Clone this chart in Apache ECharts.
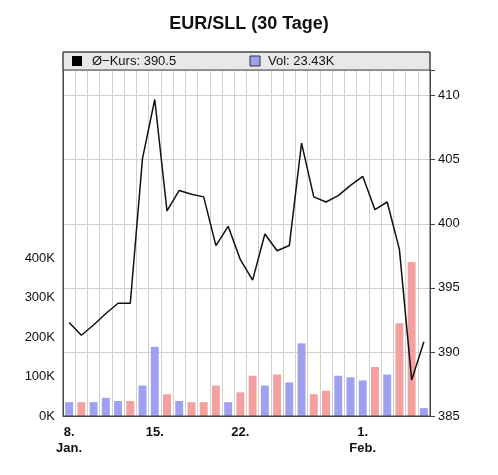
<!DOCTYPE html><html><head><meta charset="utf-8"><script src="https://cdn.jsdelivr.net/npm/echarts@6/dist/echarts.min.js"></script>
<style>body{margin:0;background:#fff}#c{width:498px;height:475px}</style></head><body><div id="c"></div><script>
const days=[8,9,10,11,12,13,14,15,16,17,18,19,20,21,22,23,24,25,26,27,28,29,30,31,1,2,3,4,5,6];
const kurs=[392.3,391.3,392.1,393.0,393.8,393.8,405.1,409.7,401.0,402.6,402.3,402.1,398.3,399.8,397.2,395.6,399.2,397.9,398.3,406.3,402.1,401.7,402.2,403.0,403.7,401.1,401.7,398.0,387.8,390.8];
const vol=[35,35,35,46,38,38,77,175,55,38,35,35,77,35,60,102,77,105,85,184,55,64,102,98,90,124,105,235,390,20];
const labelDays={0:['8.','Jan.'],7:['15.',''],14:['22.',''],24:['1.','Feb.']};
const cats=days.map((d,i)=>String(i));
const volData=vol.map((v,i)=>({value:v*1000,itemStyle:{color:(i>0&&kurs[i]<=kurs[i-1])?'#f4a0a0':'#a0a0f0'}}));
const F='Liberation Sans';
const c=echarts.init(document.getElementById('c'));
c.setOption({animation:false,
title:{text:'EUR/SLL (30 Tage)',left:'center',top:10,textStyle:{fontFamily:F,fontSize:18,fontWeight:'bold',color:'#111'}},
grid:{left:63,right:68,top:70,bottom:59},
graphic:[{type:'rect',shape:{x:63,y:52,width:367,height:18},style:{fill:'#e8e8e8',stroke:'#444',lineWidth:1},z:10},
{type:'rect',shape:{x:72,y:56,width:10,height:10},style:{fill:'#000'},z:11},
{type:'text',style:{x:92,y:61,text:'Ø−Kurs: 390.5',fill:'#111',font:'13px Liberation Sans',textVerticalAlign:'middle'},z:11},
{type:'rect',shape:{x:250,y:56,width:10,height:10},style:{fill:'#a0a0f0',stroke:'#333',lineWidth:1},z:11},
{type:'text',style:{x:268,y:61,text:'Vol: 23.43K',fill:'#111',font:'13px Liberation Sans',textVerticalAlign:'middle'},z:11},
{type:'rect',shape:{x:63,y:52,width:367,height:364},style:{fill:'none',stroke:'#444',lineWidth:1},z:12}],
xAxis:{type:'category',data:cats,boundaryGap:true,
axisLine:{lineStyle:{color:'#444'}},axisTick:{show:false},
splitLine:{show:true,lineStyle:{color:'#d0d0d0'}},
axisLabel:{interval:0,formatter:(v)=>{const l=labelDays[+v];return l?('{a|'+l[0]+'}\n{a|'+l[1]+'}'):'';},
rich:{a:{fontFamily:F,fontSize:13,fontWeight:'bold',color:'#111',lineHeight:16}}}},
yAxis:[{type:'value',position:'left',min:0,max:876000,interval:100000,splitLine:{show:false},
axisLine:{show:true,lineStyle:{color:'#444'}},axisTick:{show:false},
axisLabel:{formatter:v=>v>400000?'':(v/1000)+'K',fontFamily:F,fontSize:13,color:'#111'}},
{type:'value',position:'right',min:385,max:412,interval:5,
splitLine:{show:true,lineStyle:{color:'#d0d0d0'}},axisLine:{show:true,lineStyle:{color:'#444'}},axisTick:{show:true},
axisLabel:{formatter:v=>v>410?'':v,fontFamily:F,fontSize:13,color:'#111'}}],
series:[{type:'bar',yAxisIndex:0,data:volData,barWidth:'65%'},
{type:'line',yAxisIndex:1,data:kurs,symbol:'none',lineStyle:{color:'#111',width:1.5},z:5}]});
</script></body></html>
